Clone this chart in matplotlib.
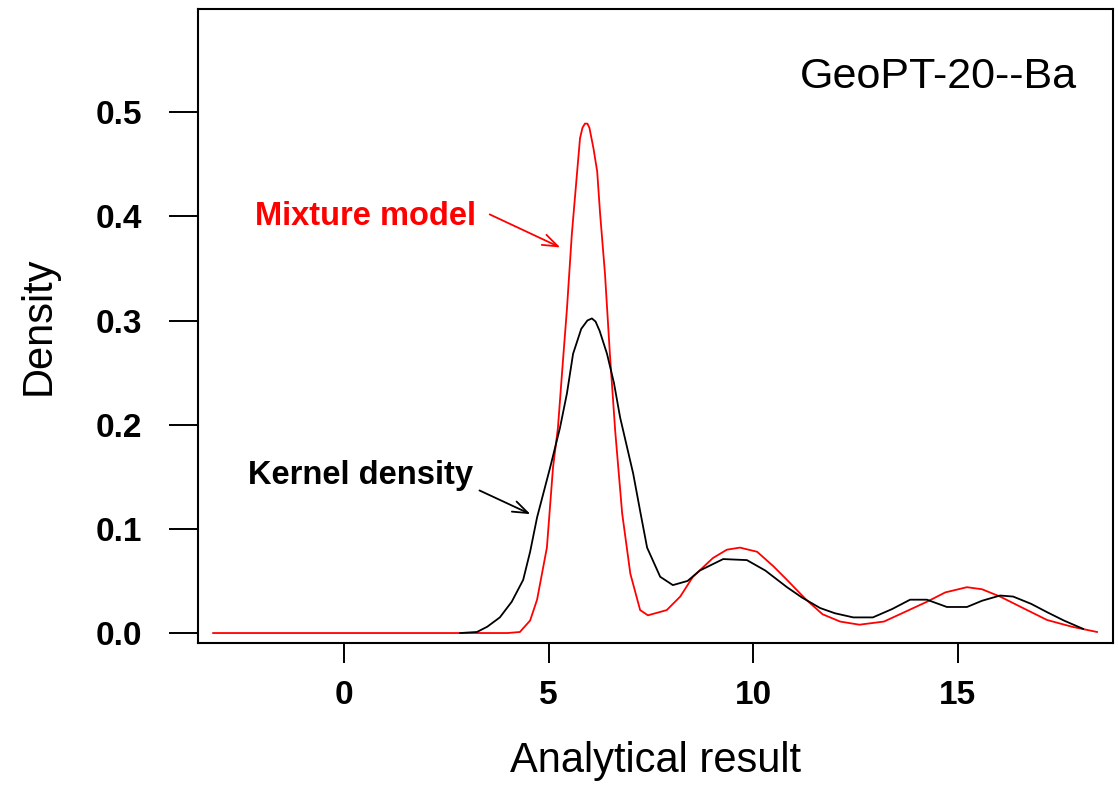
import matplotlib.pyplot as plt

plt.rcParams['font.family'] = ['Liberation Sans', 'DejaVu Sans']

# kernel density estimate (black)
kern_x = [2.84, 3.25, 3.5, 3.81, 4.1, 4.38, 4.55, 4.72, 5.04, 5.28, 5.45, 5.6, 5.8,
          5.95, 6.06, 6.15, 6.25, 6.43, 6.6, 6.75, 7.07, 7.25, 7.41, 7.73, 8.04, 8.4,
          8.7, 9.27, 9.85, 10.3, 10.83, 11.2, 11.64, 12.0, 12.45, 12.93, 13.4, 13.84,
          14.25, 14.74, 15.23, 15.6, 16.04, 16.36, 16.8, 17.19, 17.6, 18.07]
kern_y = [0.0, 0.001, 0.006, 0.015, 0.030, 0.051, 0.078, 0.111, 0.159, 0.197, 0.23,
          0.268, 0.292, 0.300, 0.302, 0.299, 0.29, 0.268, 0.24, 0.207, 0.153, 0.115,
          0.082, 0.054, 0.046, 0.050, 0.060, 0.071, 0.070, 0.060, 0.044, 0.034, 0.024,
          0.019, 0.015, 0.015, 0.023, 0.032, 0.032, 0.025, 0.025, 0.031, 0.036, 0.035,
          0.028, 0.020, 0.012, 0.004]

# fitted mixture model (red)
mix_x = [-3.2, 4.0, 4.3, 4.55, 4.72, 4.96, 5.11, 5.23, 5.35, 5.45, 5.57, 5.70, 5.77,
         5.83, 5.89, 5.95, 6.0, 6.1, 6.19, 6.26, 6.38, 6.50, 6.63, 6.80, 7.0, 7.24,
         7.43, 7.89, 8.22, 8.53, 9.02, 9.36, 9.68, 10.1, 10.5, 10.83, 11.3, 11.7,
         12.13, 12.6, 13.2, 13.7, 14.25, 14.7, 15.23, 15.6, 16.04, 16.6, 17.19, 17.8,
         18.41]
mix_y = [0.0, 0.0, 0.001, 0.012, 0.032, 0.082, 0.159, 0.197, 0.26, 0.311, 0.383,
         0.443, 0.475, 0.485, 0.489, 0.489, 0.485, 0.465, 0.443, 0.403, 0.345, 0.268,
         0.194, 0.115, 0.057, 0.022, 0.017, 0.022, 0.035, 0.054, 0.072, 0.080, 0.082,
         0.078, 0.064, 0.051, 0.032, 0.018, 0.011, 0.008, 0.011, 0.020, 0.030, 0.039,
         0.044, 0.042, 0.035, 0.024, 0.0125, 0.006, 0.001]

xticks = [0, 5, 10, 15]
yticks = [0.0, 0.1, 0.2, 0.3, 0.4, 0.5]

fig = plt.figure(figsize=(11.18, 7.86), dpi=100)
ax = fig.add_axes([0.1771, 0.1819, 0.8184, 0.8066])

ax.plot(mix_x, mix_y, color='red', lw=1.3)
ax.plot(kern_x, kern_y, color='black', lw=1.3)

ax.set_xlim(-3.57, 18.8)
ax.set_ylim(-0.0096, 0.599)
ax.set_xticks(xticks)
ax.set_yticks(yticks)
ax.set_xticklabels([str(t) for t in xticks], fontsize=24, fontweight='bold')
ax.set_yticklabels(['%.1f' % t for t in yticks], fontsize=24, fontweight='bold')
ax.tick_params(axis='y', length=21, width=1.4, pad=19)
ax.tick_params(axis='x', length=14.4, width=1.4, pad=12)
for s in ax.spines.values():
    s.set_linewidth(1.5)

ax.set_xlabel('Analytical result', fontsize=30, labelpad=22)
ax.set_ylabel('Density', fontsize=30, labelpad=27)

ax.text(17.92, 0.534, 'GeoPT-20--Ba', fontsize=31, ha='right', va='center')

arrow = dict(arrowstyle='->,head_length=1.1,head_width=0.4', lw=1.3)
ax.text(-2.18, 0.400, 'Mixture model', color='red', fontsize=23.5,
        fontweight='bold', va='center')
ax.annotate('', xy=(5.35, 0.369), xytext=(3.50, 0.403),
            arrowprops=dict(arrow, color='red'))

ax.text(-2.35, 0.151, 'Kernel density', color='black', fontsize=23.5,
        fontweight='bold', va='center')
ax.annotate('', xy=(4.62, 0.113), xytext=(3.25, 0.138),
            arrowprops=dict(arrow, color='black'))

fig.savefig('out.png', dpi=100)
